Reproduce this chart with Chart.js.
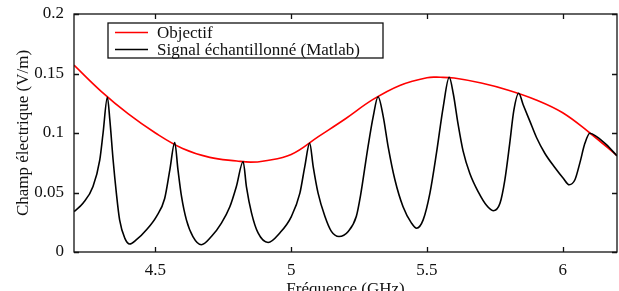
<!DOCTYPE html>
<html><head><meta charset="utf-8">
<script src="https://cdn.jsdelivr.net/npm/chart.js@4/dist/chart.umd.min.js"></script>
<style>html,body{margin:0;padding:0;background:#fff}#wrap{width:619px;height:291px}</style>
</head><body><div id="wrap"><canvas id="c" width="619" height="291"></canvas></div>
<script>
// ---- data ----
const xTicks = [4.5, 5, 5.5, 6];
const yTicks = [0, 0.05, 0.1, 0.15, 0.2];
const seriesLabels = ["Objectif", "Signal échantillonné (Matlab)"];

const freqObj = [4.2,4.3,4.4,4.5,4.6,4.7,4.8,4.85,4.9,5.0,5.1,5.2,5.3,5.4,5.5,5.55,5.6,5.7,5.8,5.9,6.0,6.1,6.2];
const objVals = [0.157,0.135,0.116,0.100,0.087,0.0795,0.0765,0.0755,0.0765,0.082,0.097,0.112,0.128,0.140,0.1465,0.1468,0.1462,0.142,0.136,0.128,0.117,0.100,0.081];

const freqSig = [4.2,4.233,4.27,4.295,4.307,4.323,4.332,4.344,4.356,4.368,4.387,4.405,4.43,4.467,4.504,4.534,4.553,4.571,4.583,4.596,4.614,4.638,4.669,4.706,4.743,4.774,4.798,4.823,4.835,4.854,4.878,4.915,4.958,5.001,5.032,5.05,5.068,5.081,5.099,5.124,5.148,5.176,5.21,5.24,5.255,5.283,5.302,5.32,5.339,5.357,5.382,5.412,5.443,5.462,5.486,5.511,5.535,5.56,5.582,5.597,5.615,5.633,5.658,5.689,5.72,5.744,5.769,5.787,5.805,5.82,5.838,5.854,5.879,5.904,5.934,5.971,6.002,6.024,6.045,6.063,6.082,6.10,6.125,6.162,6.2];
const sigVals = [0.034,0.041,0.055,0.0775,0.0998,0.130,0.111,0.0775,0.0495,0.027,0.0117,0.0067,0.0103,0.0187,0.030,0.045,0.069,0.092,0.069,0.0467,0.027,0.013,0.0061,0.013,0.0243,0.038,0.055,0.076,0.055,0.0327,0.016,0.008,0.016,0.030,0.0495,0.0718,0.0915,0.0718,0.0495,0.030,0.0173,0.013,0.0173,0.030,0.047,0.0886,0.1138,0.1305,0.1138,0.0886,0.0607,0.038,0.0243,0.020,0.027,0.0495,0.083,0.122,0.1468,0.133,0.107,0.085,0.066,0.0505,0.039,0.0347,0.041,0.0607,0.0915,0.119,0.1334,0.124,0.110,0.096,0.083,0.071,0.062,0.0565,0.0607,0.0747,0.0915,0.0998,0.097,0.090,0.0808];

// ---- styling ----
const FONT = '"Liberation Serif", "Times New Roman", serif';
const FS = 17;

const framePlugin = {
  id: 'frame',
  afterDatasetsDraw(chart) {
    const {ctx, chartArea: a, scales: {x, y}} = chart;
    ctx.save();
    ctx.strokeStyle = '#111';
    ctx.lineWidth = 1.3;
    ctx.strokeRect(a.left, a.top, a.right - a.left, a.bottom - a.top);
    const L = 5;
    ctx.beginPath();
    xTicks.forEach(v => {
      const px = Math.round(x.getPixelForValue(v)) + 0.5;
      ctx.moveTo(px, a.bottom); ctx.lineTo(px, a.bottom - L);
      ctx.moveTo(px, a.top); ctx.lineTo(px, a.top + L);
    });
    yTicks.forEach(v => {
      const py = Math.round(y.getPixelForValue(v)) + 0.5;
      ctx.moveTo(a.left, py); ctx.lineTo(a.left + L, py);
      ctx.moveTo(a.right, py); ctx.lineTo(a.right - L, py);
    });
    ctx.stroke();

    // legend box
    const bx = a.left + 34, by = a.top + 9, bw = 275, bh = 35;
    ctx.fillStyle = '#fff';
    ctx.fillRect(bx, by, bw, bh);
    ctx.lineWidth = 1.3;
    ctx.strokeStyle = '#111';
    ctx.strokeRect(bx, by, bw, bh);
    ctx.font = FS + 'px ' + FONT;
    ctx.textBaseline = 'middle';
    ctx.textAlign = 'left';
    chart.data.datasets.forEach((ds, i) => {
      const ry = by + 9.5 + i * 17;
      ctx.strokeStyle = ds.borderColor;
      ctx.lineWidth = 1.6;
      ctx.beginPath();
      ctx.moveTo(bx + 7, ry); ctx.lineTo(bx + 40, ry);
      ctx.stroke();
      ctx.fillStyle = '#111';
      ctx.fillText(ds.label, bx + 49, ry + 1);
    });
    ctx.restore();
  }
};

new Chart(document.getElementById('c'), {
  type: 'line',
  data: {
    datasets: [
      {
        label: seriesLabels[0],
        data: freqObj.map((f, i) => ({x: f, y: objVals[i]})),
        borderColor: '#ff0000',
        borderWidth: 1.6,
        pointRadius: 0,
        tension: 0.4,
        order: 2
      },
      {
        label: seriesLabels[1],
        data: freqSig.map((f, i) => ({x: f, y: sigVals[i]})),
        borderColor: '#000000',
        borderWidth: 1.6,
        pointRadius: 0,
        cubicInterpolationMode: 'monotone',
        order: 1
      }
    ]
  },
  options: {
    responsive: false,
    animation: false,
    devicePixelRatio: 1,
    layout: {padding: {top: 14, right: 2, left: 0, bottom: 0}},
    plugins: {legend: {display: false}, tooltip: {enabled: false}},
    scales: {
      x: {
        type: 'linear',
        min: 4.2, max: 6.2,
        afterBuildTicks: s => { s.ticks = xTicks.map(v => ({value: v})); },
        afterFit: s => { s.height = 39; },
        grid: {display: false},
        border: {display: false},
        ticks: {color: '#111', font: {family: FONT, size: FS}, padding: 0, callback: v => String(v), maxRotation: 0},
        title: {display: true, text: 'Fréquence (GHz)', color: '#111', font: {family: FONT, size: FS, lineHeight: 1}, padding: {top: 0, bottom: -7}}
      },
      y: {
        type: 'linear',
        min: 0, max: 0.2,
        afterBuildTicks: s => { s.ticks = yTicks.map(v => ({value: v})); },
        afterFit: s => { s.width = 74; },
        grid: {display: false},
        border: {display: false},
        ticks: {color: '#111', font: {family: FONT, size: FS}, padding: 2, callback: v => String(v)},
        title: {display: true, text: 'Champ électrique (V/m)', color: '#111', font: {family: FONT, size: FS, lineHeight: 1.2}, padding: {top: 13, bottom: 0}}
      }
    }
  },
  plugins: [framePlugin]
});
</script>
</body></html>
